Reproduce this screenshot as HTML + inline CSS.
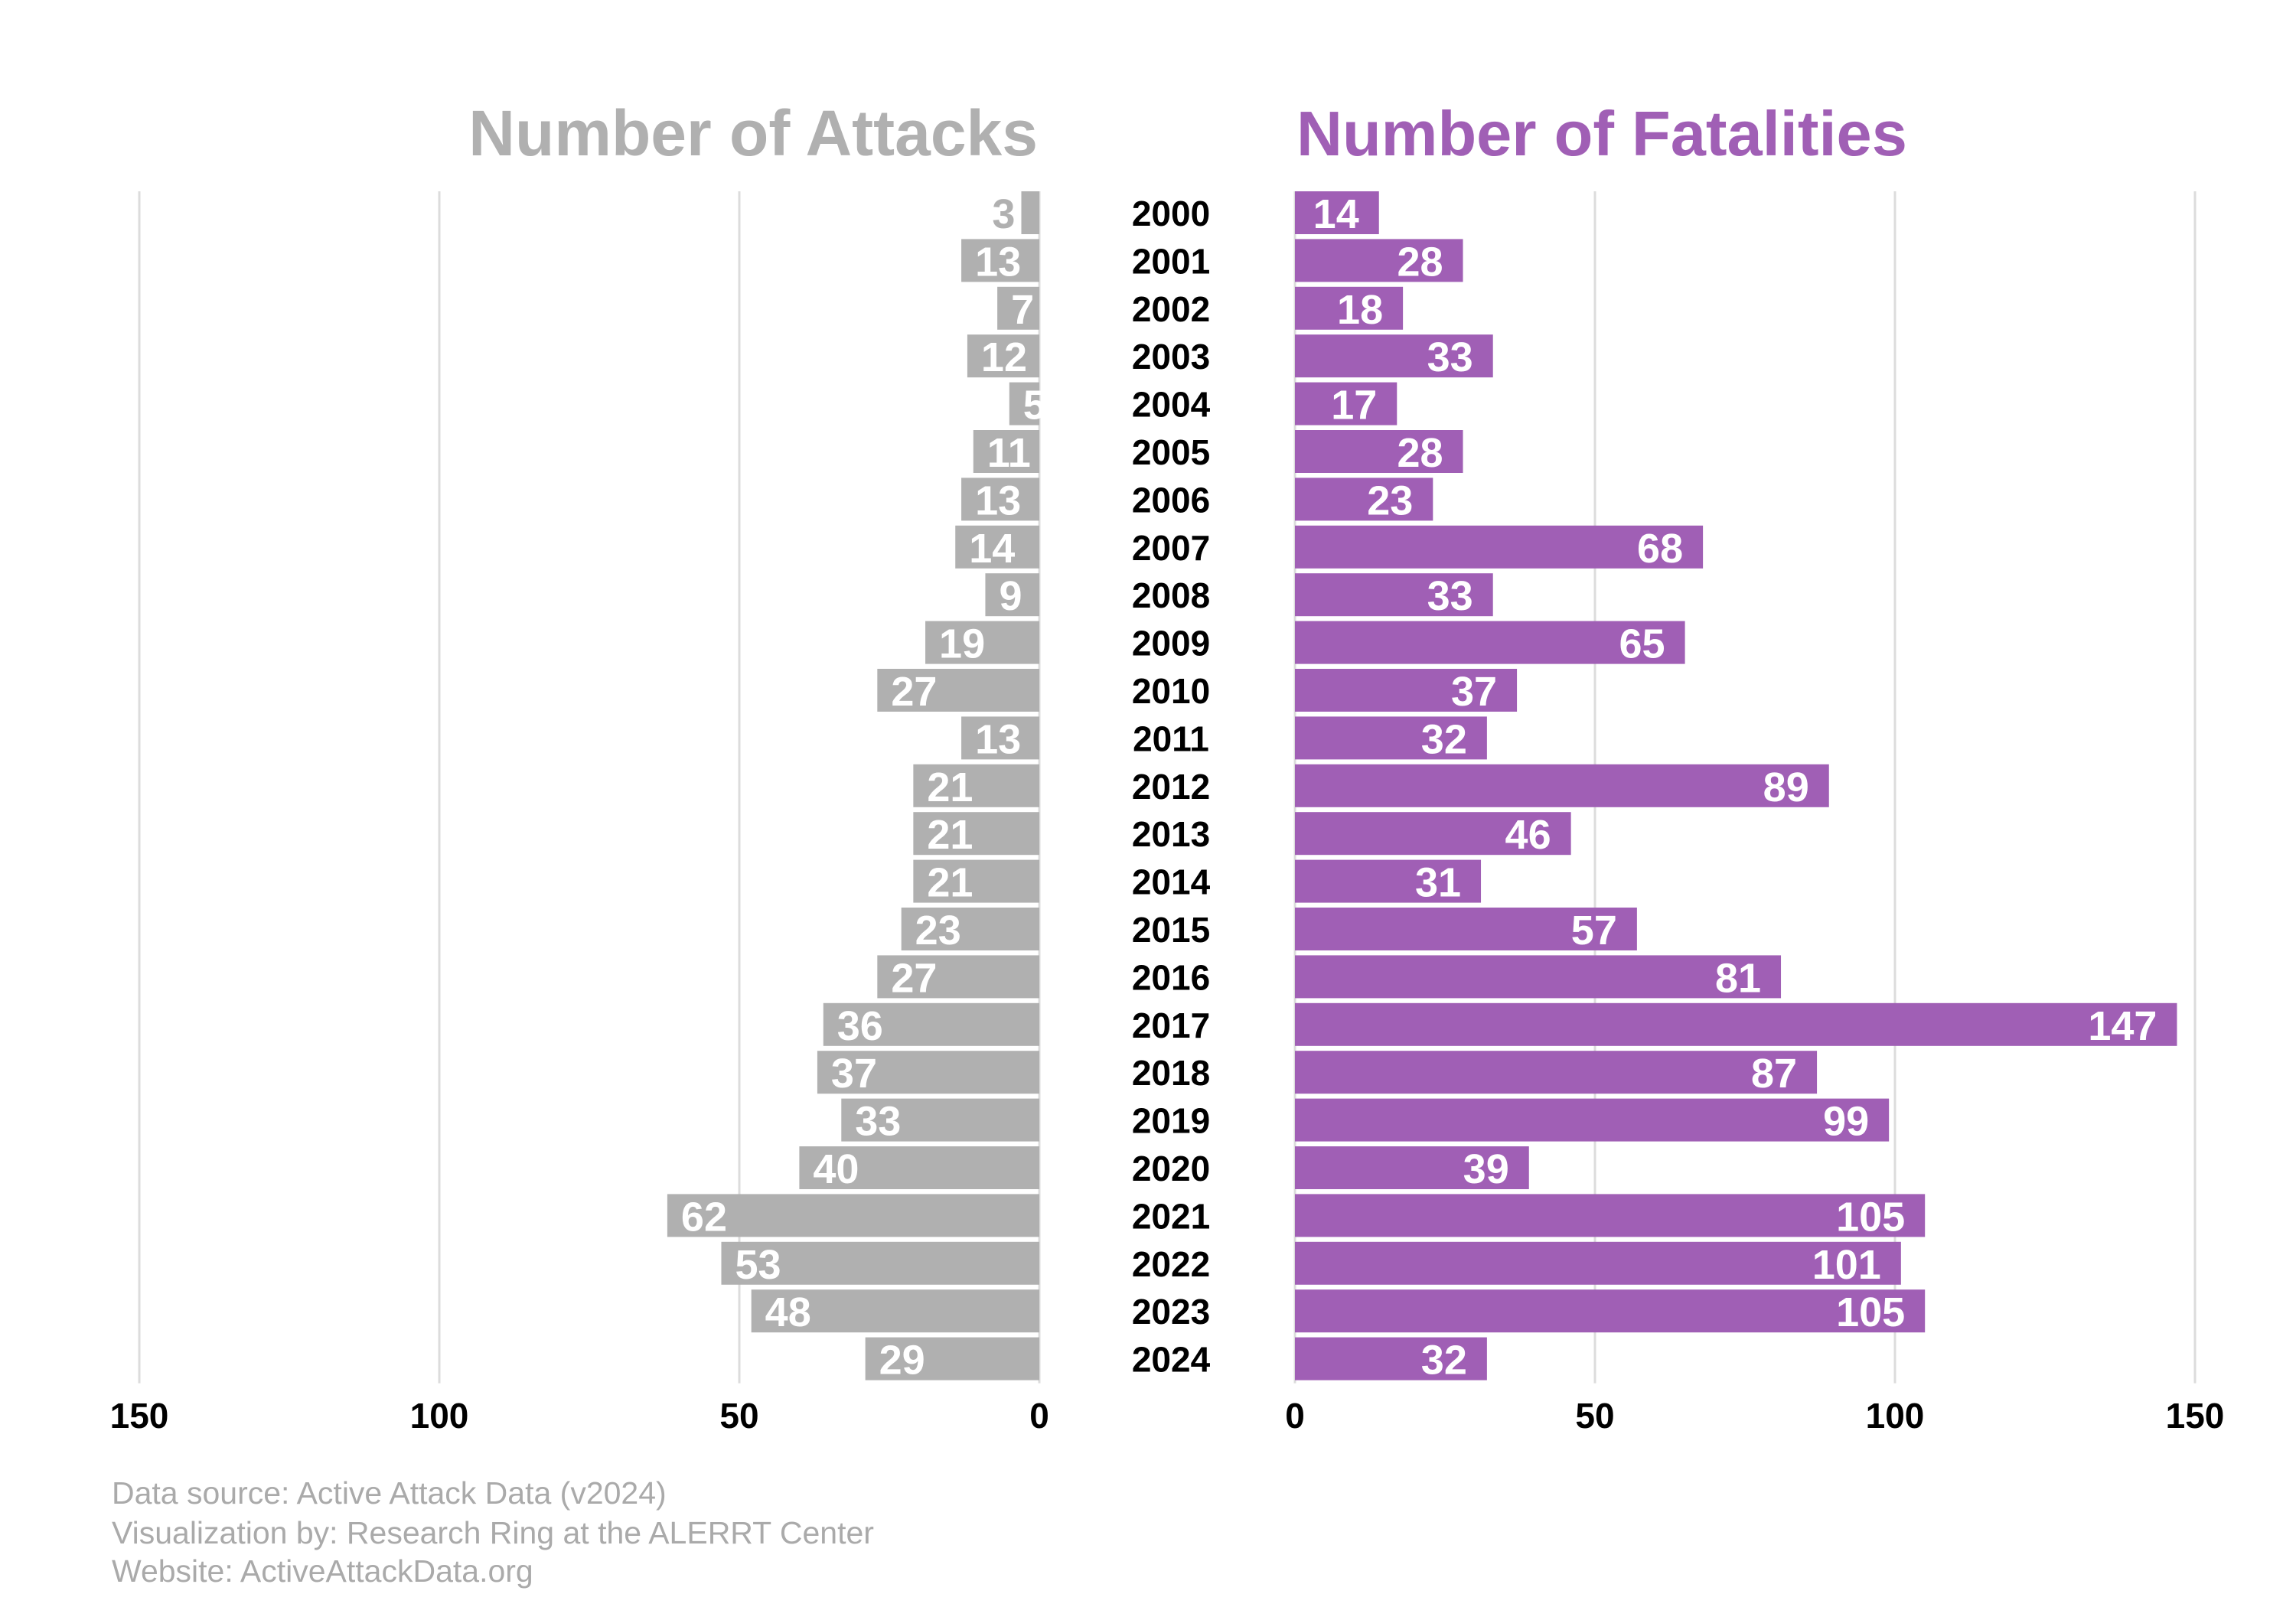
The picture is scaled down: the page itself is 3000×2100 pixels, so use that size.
<!DOCTYPE html>
<html><head><meta charset="utf-8"><style>
html,body{margin:0;padding:0;background:#fff;}
svg{display:block;font-family:"Liberation Sans",Arial,sans-serif;}
</style></head><body>
<svg id="chart" width="3000" height="2100" viewBox="0 0 3000 2100" xmlns="http://www.w3.org/2000/svg">
<rect width="3000" height="2100" fill="#fff"/>
<g id="grid"></g>
<g id="bars"></g>
<g id="labels"></g>
<text x="1356" y="203" text-anchor="end" font-size="84" font-weight="bold" fill="#b0b0b0">Number of Attacks</text>
<text x="1694" y="203" text-anchor="start" font-size="83" font-weight="bold" fill="#a05fb5">Number of Fatalities</text>
<g fill="#aaaaaa" font-size="41">
<text x="146" y="1965">Data source: Active Attack Data (v2024)</text>
<text x="146" y="2017">Visualization by: Research Ring at the ALERRT Center</text>
<text x="146" y="2067">Website: ActiveAttackData.org</text>
</g>
</svg>
<script>
const years = [2000,2001,2002,2003,2004,2005,2006,2007,2008,2009,2010,2011,2012,2013,2014,2015,2016,2017,2018,2019,2020,2021,2022,2023,2024];
const attacks = [3,13,7,12,5,11,13,14,9,19,27,13,21,21,21,23,27,36,37,33,40,62,53,48,29];
const fatalities = [14,28,18,33,17,28,23,68,33,65,37,32,89,46,31,57,81,147,87,99,39,105,101,105,32];
const ticks = [0,50,100,150];

const NS = "http://www.w3.org/2000/svg";
const leftZero = 1358, rightZero = 1692, pxPerUnit = 7.84;
const top0 = 250, step = 62.4, barH = 56;
const xL = v => leftZero - v * pxPerUnit;
const xR = v => rightZero + v * pxPerUnit;
const yB = i => top0 + i * step;
function mk(tag, attrs, parent, txt){
  const e = document.createElementNS(NS, tag);
  for (const k in attrs) e.setAttribute(k, attrs[k]);
  if (txt !== undefined) e.textContent = txt;
  parent.appendChild(e);
  return e;
}
const grid = document.getElementById('grid');
const bars = document.getElementById('bars');
const labels = document.getElementById('labels');
const gBottom = yB(years.length - 1) + barH + 4;
ticks.forEach(t => {
  [[xL(t),'left'],[xR(t),'right']].forEach(([x,side]) => {
    const l = mk('line',{x1:x,x2:x,y1:top0,y2:gBottom,stroke:'#dcdcdc','stroke-width':3},grid);
    
    
    const tx = mk('text',{x:x,y:1866,'text-anchor':'middle','font-size':46,'font-weight':'bold',fill:'#000'},labels,String(t));
    
    
  });
});
years.forEach((yr, i) => {
  const y = yB(i);
  const a = attacks[i], f = fatalities[i];
  const rl = mk('rect',{x:xL(a),y:y,width:a*pxPerUnit,height:barH,fill:'#b0b0b0'},bars);
  
  
  const rr = mk('rect',{x:rightZero,y:y,width:f*pxPerUnit,height:barH,fill:'#a05fb5'},bars);
  
  
  const ty = mk('text',{x:1530,y:y+barH/2+17,'text-anchor':'middle','font-size':46,'font-weight':'bold',fill:'#000'},labels,String(yr));
  
  
  const outside = a * pxPerUnit < 30;
  const la = mk('text',{x: outside ? xL(a)-8 : xL(a)+18,y:y+barH/2+20,'text-anchor': outside ? 'end' : 'start','font-size':54,'font-weight':'bold',fill: outside ? '#b0b0b0' : '#fff'},labels,String(a));
  
  
  const lf = mk('text',{x:xR(f)-26,y:y+barH/2+20,'text-anchor':'end','font-size':54,'font-weight':'bold',fill:'#fff'},labels,String(f));
  
  
});
</script>
</body></html>
